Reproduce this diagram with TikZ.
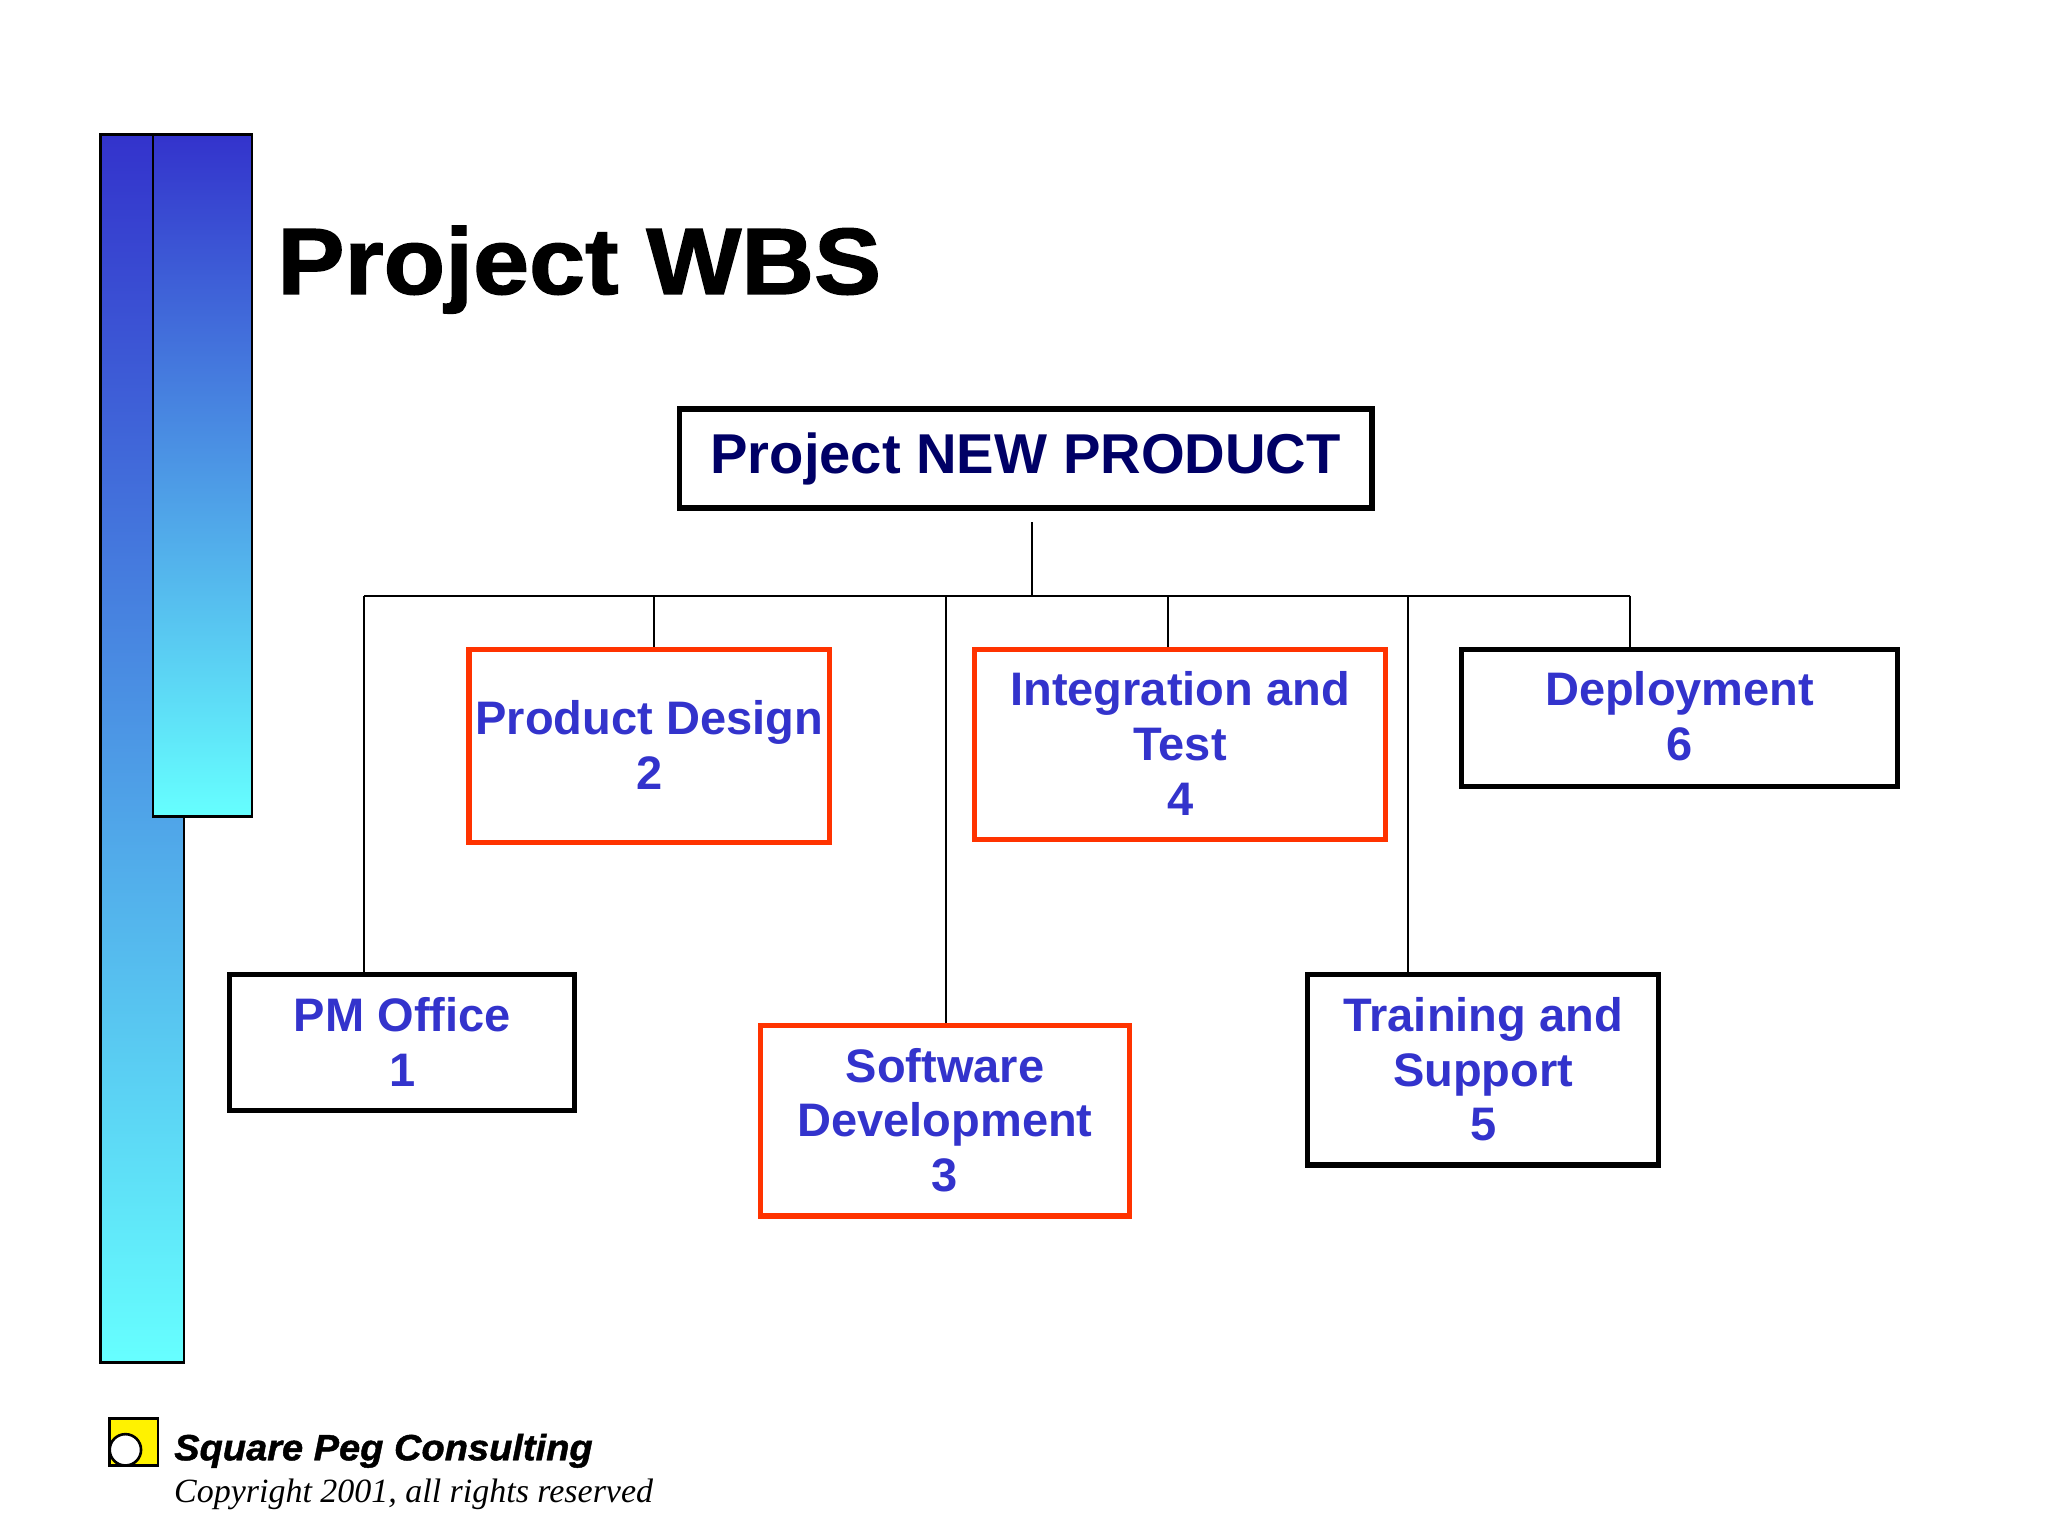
\documentclass[tikz,border=0pt]{standalone}
\usepackage{fontspec}
\setmainfont{Liberation Sans}
\newfontfamily\serifit{Liberation Serif}
\newfontfamily\heavyfont[FakeBold=1.5,FakeStretch=1.07]{Liberation Sans Bold}
\newfontfamily\heavyitfont[FakeBold=1.2,FakeStretch=1.04]{Liberation Sans Bold Italic}
\usetikzlibrary{calc}
\definecolor{txtblue}{HTML}{3333CC}
\definecolor{navy}{HTML}{000066}
\definecolor{redb}{HTML}{FF3300}
\definecolor{barblue}{HTML}{3333CC}
\definecolor{barmid}{HTML}{55AADD}
\definecolor{barcyan}{HTML}{66FFFF}
\tikzset{
  rbox/.style={draw=redb,line width=2pt},
  txt/.style={font=\fontsize{18}{21}\selectfont\bfseries,text=txtblue,align=center,inner sep=0pt,anchor=north},
  conn/.style={draw=black,line width=0.8pt},
}
\newcommand{\boxat}[6]{% name, style, x1, y1, x2, y2
  \node[#2,anchor=north west,inner sep=0pt,minimum width={(#5-#3)*0.5pt},minimum height={(#6-#4)*0.5pt}] (#1) at (#3,#4) {};}
\begin{document}
\begin{tikzpicture}[x=0.5pt,y=-0.5pt]
\useasboundingbox (0,0) rectangle (1568,1174);
\fill[white] (0,0) rectangle (1568,1174);
% bars
\shade[top color=barblue,middle color=barmid,bottom color=barcyan] (77,103) rectangle (141,1043);
\draw[line width=1pt] (77,103) rectangle (141,1043);
\shade[top color=barblue,bottom color=barcyan] (117,103) rectangle (193,625);
\draw[line width=1pt] (117,103) rectangle (193,625);
% title
\node[anchor=base west,inner sep=0pt,font=\heavyfont\fontsize{36}{40}\selectfont] (title) at (212,225) {Project WBS};
% boxes
\boxat{root}{draw=black,line width=2.2pt}{518}{311}{1048}{387}
\node[font=\fontsize{21.5}{24}\selectfont\bfseries,text=navy] at (root.center) {Project NEW PRODUCT};
\boxat{pm}{draw=black,line width=2pt}{174}{744}{438}{848}
\boxat{pd}{rbox}{357}{495}{633}{643}
\boxat{it}{rbox}{744}{495}{1059}{641}
\boxat{dp}{draw=black,line width=2pt}{1117}{495}{1451}{600}
\boxat{sw}{rbox}{580}{783}{863}{929}
\boxat{ts}{draw=black,line width=2pt}{999}{744}{1268}{890}
\node[txt] at ($(pm.north)+(0,19)$) {PM Office\\1};
\node[txt] at ($(pd.north)+(0,41)$) {Product Design\\2};
\node[txt] at ($(it.north)+(0,19)$) {Integration and\\Test\\4};
\node[txt] at ($(dp.north)+(0,19)$) {Deployment\\6};
\node[txt] at ($(sw.north)+(0,19)$) {Software\\Development\\3};
\node[txt] at ($(ts.north)+(0,19)$) {Training and\\Support\\5};
% connectors
\coordinate (rb) at (790,400);
\coordinate (rj) at (790,456);
\coordinate (hl) at (279,456);
\coordinate (hr) at (1248,456);
\coordinate (j2) at (501,456);
\coordinate (j3) at (724,456);
\coordinate (j4) at (894,456);
\coordinate (j5) at (1078,456);
\draw[conn] (rb) -- (rj);
\draw[conn] (hl) -- (hr);
\draw[conn] (hl) -- (hl |- pm.north);
\draw[conn] (j2) -- (j2 |- pd.north);
\draw[conn] (j3) -- (j3 |- sw.north);
\draw[conn] (j4) -- (j4 |- it.north);
\draw[conn] (j5) -- (j5 |- ts.north);
\draw[conn] (hr) -- (hr |- dp.north);
% footer
\draw[fill=yellow,line width=1pt] (84,1086) rectangle (121,1122);
\draw[fill=white,line width=1pt] (96,1110) circle (12);
\node[anchor=base west,inner sep=0pt,font=\heavyitfont\fontsize{14}{16}\selectfont] (spc) at (133,1118) {Square Peg Consulting};
\node[anchor=base west,inner sep=0pt,font=\serifit\fontsize{13}{16}\selectfont\itshape] (copy) at (133,1150) {Copyright 2001, all rights reserved};
\end{tikzpicture}
\end{document}
